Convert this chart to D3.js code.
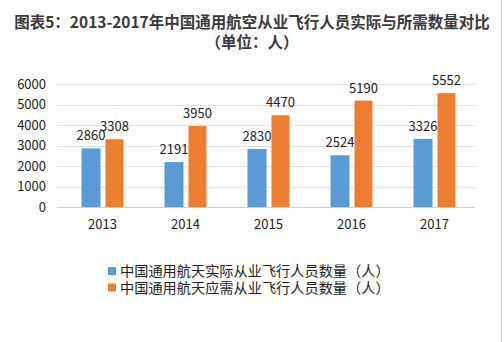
<!DOCTYPE html>
<html>
<head>
<meta charset="utf-8">
<script src="https://cdn.jsdelivr.net/npm/d3@7/dist/d3.min.js"></script>
<style>
  html, body { margin: 0; padding: 0; background: #fff; }
  svg { display: block; }
</style>
</head>
<body>
<script>
// Pilot headcount in China's general aviation, actual vs. required, 2013-2017
const years = ["2013", "2014", "2015", "2016", "2017"];
const actualPilots = [2860, 2191, 2830, 2524, 3326];
const requiredPilots = [3308, 3950, 4470, 5190, 5552];
const yTicks = [0, 1000, 2000, 3000, 4000, 5000, 6000];
const seriesNames = ["中国通用航天实际从业飞行人员数量（人）", "中国通用航天应需从业飞行人员数量（人）"];
const titleLines = ["图表5：2013-2017年中国通用航空从业飞行人员实际与所需数量对比", "（单位：人）"];

const W = 504, H = 342;
const colors = ["#5B9BD5", "#ED7D31"];
const font = "'Microsoft YaHei', 'Noto Sans CJK SC', 'Liberation Sans', Arial, sans-serif";
const latinFirst = "'Liberation Sans', 'Noto Sans CJK SC', sans-serif";

const svg = d3.select("body").append("svg")
  .attr("width", W).attr("height", H)
  .style("font-family", font);

svg.append("rect").attr("width", W).attr("height", H).attr("fill", "#fff");

// title
svg.append("g").selectAll("text").data(titleLines).join("text")
  .attr("x", W / 2)
  .attr("y", (d, i) => 28 + i * 20)
  .attr("text-anchor", "middle")
  .attr("font-size", 15.5)
  .attr("font-weight", "bold")
  .attr("fill", "#3a3a3a")
  .text(d => d);

// scales
const x = d3.scaleBand().domain(years).range([61, 476]);
const y = d3.scaleLinear().domain([0, 6000]).range([207, 84]);

// gridlines
const grid = svg.append("g");
grid.selectAll("line").data(yTicks).join("line")
  .attr("x1", 57).attr("x2", 475)
  .attr("y1", d => Math.round(y(d)) + 0.5)
  .attr("y2", d => Math.round(y(d)) + 0.5)
  .attr("stroke", d => d === 0 ? "#cfcfcf" : "#e0e0e0")
  .attr("stroke-width", 1);

// y axis labels
const yAxis = svg.append("g")
  .attr("transform", "translate(46,0)")
  .call(d3.axisLeft(y).tickValues(yTicks).tickSize(0).tickPadding(0).tickFormat(d3.format("d")));
yAxis.select(".domain").remove();
yAxis.selectAll("text")
  .attr("font-size", 13).attr("fill", "#222").attr("font-family", font);

// x axis labels
const xAxis = svg.append("g")
  .attr("transform", "translate(0,207)")
  .call(d3.axisBottom(x).tickSize(0).tickPadding(13));
xAxis.select(".domain").remove();
xAxis.selectAll("text")
  .attr("font-size", 13).attr("fill", "#222").attr("font-family", font);

// bars with value labels
const barW = 19;
const offsets = [-21, 3];
const series = [actualPilots, requiredPilots];
series.forEach((vals, s) => {
  const g = svg.append("g");
  g.selectAll("rect").data(vals).join("rect")
    .attr("x", (d, i) => x(years[i]) + x.bandwidth() / 2 + offsets[s])
    .attr("width", barW - s)
    .attr("y", d => y(d))
    .attr("height", d => y(0) - y(d))
    .attr("fill", colors[s]);
  g.selectAll("text").data(vals).join("text")
    .attr("x", (d, i) => x(years[i]) + x.bandwidth() / 2 + offsets[s] + (barW - s) / 2)
    .attr("y", d => y(d) - 8)
    .attr("text-anchor", "middle")
    .attr("font-size", 13)
    .attr("fill", "#222")
    .text(d => d);
});

// legend
const legend = svg.append("g");
seriesNames.forEach((name, i) => {
  const ly = 271 + i * 16.5;
  legend.append("rect")
    .attr("x", 108).attr("y", ly - 4).attr("width", 8).attr("height", 8)
    .attr("fill", colors[i]);
  legend.append("text")
    .attr("x", 120).attr("y", ly + 5)
    .attr("font-size", 14.2)
    .attr("font-family", latinFirst)
    .attr("fill", "#222")
    .text(name);
});

// frame edge on the right
svg.append("line")
  .attr("x1", 501.5).attr("x2", 501.5).attr("y1", 0).attr("y2", H)
  .attr("stroke", "#d0d0d0");
</script>
</body>
</html>
